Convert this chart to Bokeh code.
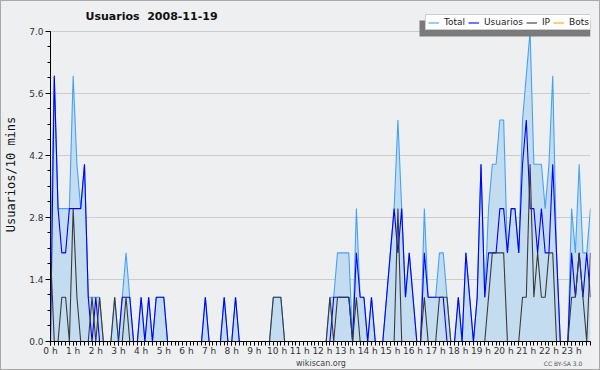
from bokeh.plotting import figure
from bokeh.layouts import column
from bokeh.models import (Range1d, FixedTicker, Legend, LegendItem, Label,
                          BoxAnnotation, NumeralTickFormatter)
from bokeh.embed import file_html
from bokeh.resources import INLINE

# ---- data: 10-minute slots of 2008-11-19 (144 slots) ----
slot_minutes = 10
hour_ticks = list(range(24))
hour_labels = [f"{h} h" for h in hour_ticks]
y_ticks = [0.0, 1.4, 2.8, 4.2, 5.6, 7.0]

total = [2, 6, 3, 3, 3, 3, 6, 4, 3, 4, 1, 1, 1, 1, 0, 0, 0, 1, 0, 1,
         2, 1, 0, 0, 1, 0, 1, 0, 1, 1, 1, 0, 0, 0, 0, 0, 0, 0, 0, 0,
         0, 1, 0, 0, 0, 0, 1, 0, 0, 1, 0, 0, 0, 0, 0, 0, 0, 0, 0, 1,
         1, 1, 0, 0, 0, 0, 0, 0, 0, 0, 0, 0, 0, 0, 1, 1, 2, 2, 2, 2,
         0, 3, 1, 1, 0, 1, 0, 0, 0, 1, 2, 3, 5, 3, 1, 2, 1, 0, 0, 3,
         1, 1, 1, 2, 2, 1, 0, 0, 1, 0, 2, 1, 0, 1, 4, 1, 3, 4, 4, 5,
         5, 2, 3, 3, 2, 5, 6, 7, 4, 4, 4, 3, 4, 6, 2, 0, 0, 0, 3, 2,
         4, 2, 2, 3]

usuarios = [0, 6, 3, 2, 2, 3, 3, 3, 3, 4, 1, 0, 1, 0, 0, 0, 0, 0, 0, 1,
            1, 1, 0, 0, 1, 0, 1, 0, 1, 1, 1, 0, 0, 0, 0, 0, 0, 0, 0, 0,
            0, 1, 0, 0, 0, 0, 1, 0, 0, 1, 0, 0, 0, 0, 0, 0, 0, 0, 0, 0,
            0, 0, 0, 0, 0, 0, 0, 0, 0, 0, 0, 0, 0, 0, 0, 1, 1, 1, 1, 1,
            0, 2, 1, 1, 0, 1, 0, 0, 0, 1, 2, 3, 2, 3, 1, 2, 1, 0, 0, 2,
            1, 1, 1, 1, 1, 0, 0, 0, 1, 0, 2, 1, 0, 1, 4, 1, 2, 2, 2, 3,
            3, 2, 3, 3, 2, 4, 5, 3, 3, 2, 3, 2, 2, 4, 2, 0, 0, 0, 2, 1,
            2, 1, 2, 1]

ip = [2, 0, 0, 1, 1, 0, 3, 1, 0, 0, 0, 1, 0, 1, 0, 0, 0, 1, 0, 0,
      1, 0, 0, 0, 0, 0, 0, 0, 0, 0, 0, 0, 0, 0, 0, 0, 0, 0, 0, 0,
      0, 0, 0, 0, 0, 0, 0, 0, 0, 0, 0, 0, 0, 0, 0, 0, 0, 0, 0, 1,
      1, 1, 0, 0, 0, 0, 0, 0, 0, 0, 0, 0, 0, 0, 1, 0, 1, 1, 1, 1,
      0, 1, 0, 0, 0, 0, 0, 0, 0, 0, 0, 0, 3, 0, 0, 0, 0, 0, 0, 1,
      0, 0, 0, 1, 1, 1, 0, 0, 0, 0, 0, 0, 0, 0, 0, 0, 1, 2, 2, 2,
      2, 0, 0, 0, 0, 1, 1, 4, 1, 2, 1, 1, 2, 2, 0, 0, 0, 0, 1, 1,
      2, 1, 0, 2]

bots = [0] * 144

x = [i * slot_minutes / 60 for i in range(len(total))]

# ---- layout constants (pixels) ----
BG = "#eeeff1"
W = 598                 # inside the 1px page border
MAIN_H = 357
FOOT_H = 11
TOP_PAD = 6             # frame starts here (room for title + legend)
BOTTOM = 15             # x-axis panel
FRAME_H = MAIN_H - TOP_PAD - BOTTOM
PX_ABOVE_7 = 30 - TOP_PAD   # 7.0 gridline sits at y=30 of this figure
y_top = y_ticks[-1] * FRAME_H / (FRAME_H - PX_ABOVE_7)

# ---- main figure ----
p = figure(width=W, height=MAIN_H, output_backend="svg", toolbar_location=None,
           title=None,
           x_range=Range1d(0, x[-1]), y_range=Range1d(0, y_top),
           min_border_left=46, min_border_right=9,
           min_border_top=TOP_PAD, min_border_bottom=BOTTOM)
p.background_fill_color = BG
p.border_fill_color = BG
p.outline_line_color = None

p.xgrid.visible = False
p.ygrid.grid_line_color = "#cccccc"
p.ygrid.grid_line_width = 1

# axes
xa = p.xaxis[0]
xa.ticker = FixedTicker(ticks=hour_ticks, minor_ticks=x)
xa.major_label_overrides = {h: lab for h, lab in zip(hour_ticks, hour_labels)}
xa.axis_line_color = "black"
xa.major_tick_line_color = "black"
xa.minor_tick_line_color = "black"
xa.major_tick_out = 4
xa.major_tick_in = 0
xa.minor_tick_out = 4
xa.minor_tick_in = 0
xa.major_label_standoff = 0
xa.major_label_text_font = "DejaVu Sans"
xa.major_label_text_font_size = "9px"
xa.major_label_text_color = "#333333"

ya = p.yaxis[0]
ya.bounds = (0, y_ticks[-1])
ya.ticker = FixedTicker(ticks=y_ticks,
                        minor_ticks=[t / 4 * 1.4 for t in range(21)])
ya.formatter = NumeralTickFormatter(format="0.0")
ya.axis_line_color = "black"
ya.major_tick_out = 5
ya.major_tick_in = 0
ya.minor_tick_out = 3
ya.minor_tick_in = 0
ya.major_label_standoff = 2
ya.major_label_text_font = "DejaVu Sans"
ya.major_label_text_font_size = "9px"
ya.major_label_text_color = "#333333"
ya.axis_label = "Usuarios/10 mins"
ya.axis_label_text_font = "DejaVu Sans Mono"
ya.axis_label_text_font_size = "12px"
ya.axis_label_text_font_style = "normal"
ya.axis_label_text_color = "#111111"
ya.axis_label_standoff = 8

# ---- series ----
r_bots = p.line(x, bots, line_color="#ffa500", line_width=1.1)
p.varea(x=x, y1=[0] * len(total), y2=total, fill_color="#c4dcf0")
r_total = p.line(x, total, line_color="#45a3f5", line_width=1.1)
r_users = p.line(x, usuarios, line_color="#0000ff", line_width=1.1)
r_ip = p.line(x, ip, line_color="#3a3a3a", line_width=1.1)

# legend shadow + legend
shadow = BoxAnnotation(left=418, right=589, top=19, bottom=35,
                       left_units="canvas", right_units="canvas",
                       top_units="canvas", bottom_units="canvas",
                       fill_color="#7a7a7a", fill_alpha=1, line_color=None)
p.add_layout(shadow)

legend = Legend(items=[LegendItem(label="Total", renderers=[r_total]),
                       LegendItem(label="Usuarios", renderers=[r_users]),
                       LegendItem(label="IP", renderers=[r_ip]),
                       LegendItem(label="Bots", renderers=[r_bots])],
                orientation="horizontal", location=(375, 311),
                padding=2, margin=0, spacing=3, label_standoff=5,
                glyph_width=11, glyph_height=9, label_height=9, label_width=5,
                label_text_font="DejaVu Sans", label_text_font_size="9px",
                label_text_color="#222222",
                border_line_color="#999999", border_line_width=1,
                background_fill_color="white", background_fill_alpha=1)
p.add_layout(legend, "center")

p.add_layout(Label(x=84, y=15, x_units="canvas", y_units="canvas",
                   text="Usuarios \u00a02008-11-19", text_font="DejaVu Sans",
                   text_font_size="11px", text_font_style="bold",
                   text_color="#111111", text_baseline="middle"))

# ---- footer strip ----
f = figure(width=W, height=FOOT_H, output_backend="svg", toolbar_location=None,
           title=None, x_axis_type=None, y_axis_type=None,
           x_range=Range1d(0, W), y_range=Range1d(FOOT_H, 0),
           min_border=0)
f.background_fill_color = BG
f.border_fill_color = BG
f.outline_line_color = None
f.grid.visible = False
f.add_layout(Label(x=299.5, y=3.5, text="wikiscan.org", text_font="DejaVu Sans",
                   text_font_size="8px", text_color="#444444",
                   text_align="center", text_baseline="middle"))
f.add_layout(Label(x=589, y=4, text="CC BY-SA 3.0", text_font="DejaVu Sans",
                   text_font_size="6px", text_color="#555555",
                   text_align="right", text_baseline="middle"))

layout = column(p, f, spacing=0,
                styles={"border": "1px solid #a8a8a8", "background-color": BG})

open("out.html", "w").write(file_html(layout, INLINE))
